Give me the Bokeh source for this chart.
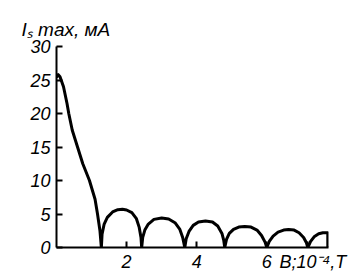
from bokeh.plotting import figure
from bokeh.models import FixedTicker, Range1d
from bokeh.embed import file_html
from bokeh.resources import INLINE

# Data: B in 10^-4 T, Is max in mA
drop_b = [0.0, 0.05, 0.1, 0.2, 0.3, 0.35, 0.45, 0.6, 0.75, 0.94, 1.1, 1.17, 1.24, 1.28]
drop_i = [25.4, 25.8, 25.5, 24.0, 21.5, 20.0, 17.5, 15.0, 12.5, 10.0, 7.2, 5.0, 2.5, 0.0]

arch1_b = [1.30, 1.36, 1.45, 1.6, 1.75, 1.88, 2.0, 2.15, 2.28, 2.36, 2.41, 2.43]
arch1_i = [2.0, 3.5, 4.5, 5.3, 5.65, 5.7, 5.6, 5.2, 4.3, 3.0, 1.5, 0.0]

arch2_b = [2.46, 2.52, 2.62, 2.78, 3.0, 3.2, 3.38, 3.52, 3.6, 3.66]
arch2_i = [1.5, 2.6, 3.5, 4.2, 4.4, 4.25, 3.7, 2.7, 1.5, 0.0]

arch3_b = [3.7, 3.78, 3.9, 4.05, 4.25, 4.45, 4.6, 4.72, 4.77, 4.8]
arch3_i = [1.3, 2.4, 3.3, 3.8, 3.95, 3.8, 3.2, 2.1, 1.1, 0.0]

arch4_b = [4.85, 4.93, 5.05, 5.2, 5.37, 5.55, 5.72, 5.85, 5.95, 6.0]
arch4_i = [1.2, 2.1, 2.7, 3.05, 3.15, 3.05, 2.6, 1.8, 0.8, 0.0]

arch5_b = [6.07, 6.18, 6.32, 6.48, 6.62, 6.78, 6.92, 7.05, 7.13, 7.17]
arch5_i = [0.9, 1.7, 2.3, 2.6, 2.7, 2.6, 2.2, 1.5, 0.7, 0.0]

arch6_b = [7.25, 7.35, 7.48, 7.6, 7.74, 7.74]
arch6_i = [0.9, 1.6, 2.05, 2.2, 2.2, 0.0]

y_ticks = [0, 5, 10, 15, 20, 25, 30]
x_ticks = [2, 4, 6]
x_unit_pos = 7.17
x_unit_text = "\u00a0\u00a0B;10⁻⁴,T"
y_title = "Iₛ max, мА"

b_all = drop_b + arch1_b + arch2_b + arch3_b + arch4_b + arch5_b + arch6_b
i_all = drop_i + arch1_i + arch2_i + arch3_i + arch4_i + arch5_i + arch6_i

FONT = "Liberation Sans"

p = figure(width=358, height=278, output_backend="svg", toolbar_location=None,
           x_range=Range1d(0, 7.76), y_range=Range1d(0, 30),
           title=y_title,
           min_border_left=56, min_border_right=30, min_border_top=46, min_border_bottom=31)
p.outline_line_color = None
p.grid.visible = False
p.background_fill_color = "white"
p.border_fill_color = "white"

p.title.align = "left"
p.title.offset = -35
p.title.standoff = 13
p.title.text_font = FONT
p.title.text_font_style = "italic"
p.title.text_font_size = "19px"
p.title.text_color = "black"

for ax in (p.xaxis[0], p.yaxis[0]):
    ax.axis_line_width = 2
    ax.axis_line_color = "black"
    ax.major_tick_in = 6
    ax.major_tick_out = 0
    ax.major_tick_line_width = 2
    ax.minor_tick_line_color = None
    ax.major_label_text_font = FONT
    ax.major_label_text_font_style = "italic"
    ax.major_label_text_font_size = "18px"
    ax.major_label_text_color = "black"

p.yaxis[0].ticker = FixedTicker(ticks=y_ticks)
p.xaxis[0].ticker = FixedTicker(ticks=x_ticks + [x_unit_pos])
p.xaxis[0].major_label_overrides = {x_unit_pos: x_unit_text}
p.yaxis[0].major_label_standoff = 6
p.xaxis[0].major_label_standoff = 4

p.line(b_all, i_all, line_width=3, line_color="black", line_join="round")

open("out.html", "w").write(file_html(p, INLINE))
